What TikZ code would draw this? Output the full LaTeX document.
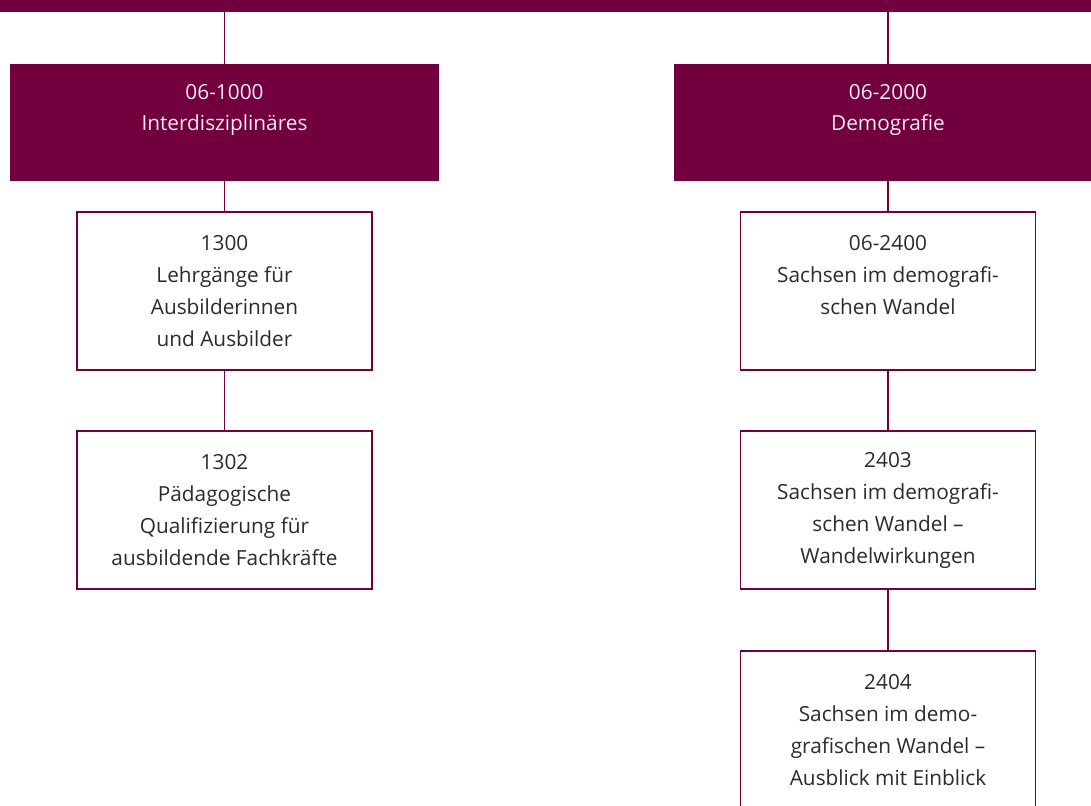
\documentclass[tikz,border=0pt]{standalone}
\usepackage{fontspec}
\setmainfont{Open Sans}
\definecolor{maroon}{HTML}{72003F}
\definecolor{txt}{HTML}{2B2B2B}
\definecolor{htxt}{HTML}{F7EAF0}
\tikzset{
  bar/.style={fill=maroon, draw=none, minimum width=1091pt, minimum height=12pt, inner sep=0pt},
  head/.style={fill=maroon, draw=none, minimum width=429pt, minimum height=117pt, inner sep=0pt,
    text=htxt, align=center, font=\fontsize{20.8}{31}\selectfont},
  item/.style={fill=white, draw=maroon, line width=1.4pt, minimum width=295pt, minimum height=158pt,
    inner sep=0pt, text=txt, align=center, font=\fontsize{20.8}{32}\selectfont},
  link/.style={draw=maroon, line width=1.4pt}
}
\begin{document}
\begin{tikzpicture}[x=1pt,y=-1pt]
\useasboundingbox (0,0) rectangle (1091,805);
\clip (0,0) rectangle (1091,805);
\node[bar] (bar) at (545.5,6) {};
\node[head] (h1) at (224.5,122.5) {06-1000\\Interdisziplinäres\\\mbox{}};
\node[head] (h2) at (888,122.5) {06-2000\\Demografie\\\mbox{}};
\node[item] (a1) at (224.5,291) {1300\\Lehrgänge für\\Ausbilderinnen\\und Ausbilder};
\node[item] (a2) at (224.5,510) {1302\\Pädagogische\\Qualifizierung für\\ausbildende Fachkräfte};
\node[item] (b1) at (888,291) {06-2400\\Sachsen im demografi-\\schen Wandel\\\mbox{}};
\node[item] (b2) at (888,510) {2403\\Sachsen im demografi-\\schen Wandel –\\Wandelwirkungen};
\node[item] (b3) at (888,730) {2404\\Sachsen im demo-\\grafischen Wandel –\\Ausblick mit Einblick};
\draw[link] (bar.south -| h1.north) -- (h1.north);
\draw[link] (bar.south -| h2.north) -- (h2.north);
\draw[link] (h1.south) -- (a1.north);
\draw[link] (a1.south) -- (a2.north);
\draw[link] (h2.south) -- (b1.north);
\draw[link] (b1.south) -- (b2.north);
\draw[link] (b2.south) -- (b3.north);
\end{tikzpicture}
\end{document}
